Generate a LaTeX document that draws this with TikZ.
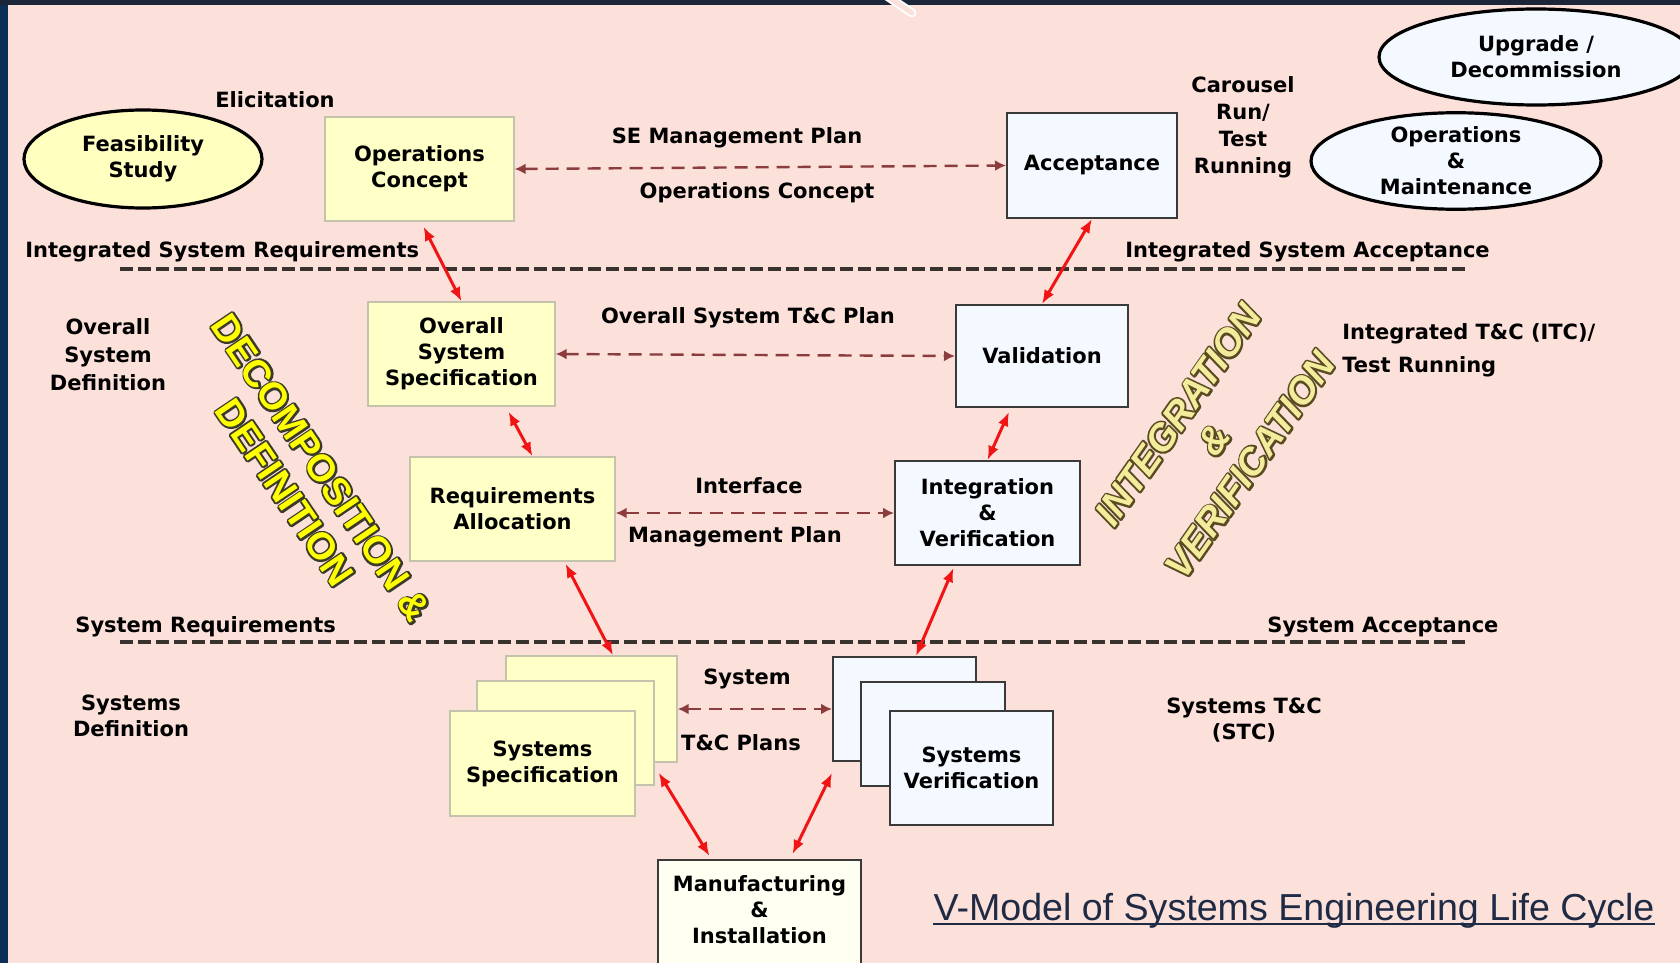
\documentclass[tikz,border=0pt]{standalone}
\usepackage{fontspec}
\setmainfont{DejaVu Sans}
\newfontfamily\libsans{Liberation Sans}
\newfontface\decoout{Liberation Sans Bold}[FakeBold=10]
\newfontface\decoin{Liberation Sans Bold}
\newfontface\ivout{Liberation Sans Bold Italic}[FakeBold=10]
\newfontface\ivin{Liberation Sans Bold Italic}
\usetikzlibrary{arrows.meta,shapes.geometric}
\definecolor{bgc}{HTML}{FCE0DA}
\definecolor{lband}{HTML}{0C3055}
\definecolor{tband}{HTML}{1B2739}
\definecolor{ylw}{HTML}{FFFFC8}
\definecolor{ybord}{HTML}{C4C4AC}
\definecolor{lblue}{HTML}{F3F9FF}
\definecolor{bbord}{HTML}{3A3A3A}
\definecolor{mfill}{HTML}{FFFFF2}
\definecolor{eyel}{HTML}{FFFFC0}
\definecolor{dbrown}{HTML}{8B3C3C}
\definecolor{sepc}{HTML}{38332F}
\definecolor{redc}{HTML}{F01414}
\definecolor{titc}{HTML}{1F2B45}
\definecolor{decoyel}{HTML}{FFFF00}
\definecolor{decoline}{HTML}{3A3A2A}
\definecolor{ivfill}{HTML}{F3EC9C}
\definecolor{ivline}{HTML}{5A4A20}
\newcommand\bt{\fontsize{10.5}{13}\selectfont\bfseries}
\newcommand\rjoin{\special{pdf:code 1 j}}
\begin{document}
\begin{tikzpicture}[x=0.5pt,y=-0.5pt,
  ybox/.style={draw=ybord, fill=ylw, line width=0.7pt, inner sep=0pt, align=center, font=\bt},
  bbox/.style={draw=bbord, fill=lblue, line width=1pt, inner sep=0pt, align=center, font=\bt},
  mbox/.style={draw=bbord, fill=mfill, line width=1pt, inner sep=0pt},
  ell/.style={ellipse, draw=black, line width=1.6pt, inner sep=0pt, align=center, font=\bt},
  lbl/.style={align=center, font=\bt, inner sep=0pt},
  redarr/.style={redc, line width=1.5pt, {Latex[length=7pt,width=5.5pt]}-{Latex[length=7pt,width=5.5pt]}},
  dasharr/.style={dbrown, line width=1.2pt, dash pattern=on 6.5pt off 4pt, {Latex[length=5.5pt,width=5.5pt]}-{Latex[length=5.5pt,width=5.5pt]}},
  sepline/.style={sepc, line width=2pt, dash pattern=on 6.5pt off 2.5pt},
  bigrot/.style={align=center, inner sep=0pt}]
\useasboundingbox (0,0) rectangle (1680,963);
\fill[bgc] (0,0) rectangle (1680,963);
\fill[lband] (0,0) rectangle (8,963);
\fill[tband] (0,0) rectangle (1680,5);
% small clip shape at top
\draw[white, line width=4.5pt, line cap=round] (884,-6) -- (912,13);
\draw[bgc, line width=2.5pt, line cap=round] (884,-6) -- (912,13);

% separators
\draw[sepline] (120,269) -- (1466,269);
\draw[sepline] (120,642) -- (1466,642);

% ellipses
\node[ell, fill=eyel, minimum width=119pt, minimum height=49pt] (feas) at (143,159) {Feasibility\\Study};
\node[ell, fill=lblue, minimum width=157pt, minimum height=48pt] (upg) at (1536,57) {Upgrade /\\Decommission};
\node[ell, fill=lblue, minimum width=145pt, minimum height=48pt] (opm) at (1456,161) {Operations\\\&\\Maintenance};

% left branch boxes
\node[ybox, minimum width=94.5pt, minimum height=52pt] (oc) at (419.5,169) {Operations\\Concept};
\node[ybox, minimum width=93.5pt, minimum height=52pt] (oss) at (461.5,354) {Overall\\System\\Specification};
\node[ybox, minimum width=102.5pt, minimum height=52pt] (ra) at (512.5,509) {Requirements\\Allocation};
\node[ybox, minimum width=85.5pt, minimum height=53pt] (ssA) at (591.5,709) {};
\node[ybox, minimum width=88.5pt, minimum height=52pt] (ssB) at (565.5,733) {};
\node[ybox, minimum width=92.5pt, minimum height=52.5pt] (ssC) at (542.5,763.5) {Systems\\Specification};

% right branch boxes
\node[bbox, minimum width=85pt, minimum height=52.5pt] (acc) at (1092,165.5) {Acceptance};
\node[bbox, minimum width=86pt, minimum height=51pt] (val) at (1042,356) {Validation};
\node[bbox, minimum width=92.5pt, minimum height=52pt] (iv) at (987.5,513) {Integration\\\&\\Verification};
\node[bbox, minimum width=71.5pt, minimum height=52pt] (svA) at (904.5,709) {};
\node[bbox, minimum width=72pt, minimum height=52pt] (svB) at (933,734) {};
\node[bbox, minimum width=81.5pt, minimum height=57pt] (svC) at (971.5,768) {Systems\\Verification};

% manufacturing
\node[mbox, minimum width=101.5pt, minimum height=57.5pt] (mfg) at (759.5,917.5) {};
\node[lbl] (mfgt) at (759.5,910) {Manufacturing\\\&\\Installation};

% labels
\node[lbl] (elic) at (275,100) {Elicitation};
\node[lbl] (sem) at (737,138) {SE Management Plan};
\node[lbl] (opc) at (757,193) {Operations Concept};
\node[lbl, font=\fontsize{10.5}{13.5}\selectfont\bfseries] (car) at (1243,127) {Carousel\\Run/\\Test\\Running};
\node[lbl, anchor=west] (isr) at (25,252) {Integrated System Requirements};
\node[lbl, anchor=west] (isa) at (1125,252) {Integrated System Acceptance};
\node[lbl, font=\fontsize{10.5}{14}\selectfont\bfseries] (osd) at (108,355) {Overall\\System\\Definition};
\node[lbl] (ostc) at (748,318) {Overall System T\&C Plan};
\node[lbl, anchor=west] (itc1) at (1342,334) {Integrated T\&C (ITC)/};
\node[lbl, anchor=west] (itc2) at (1342,367) {Test Running};
\node[lbl] (intf) at (749,486) {Interface};
\node[lbl] (mgp) at (735,537) {Management Plan};
\node[lbl, anchor=west] (sreq) at (75,627) {System Requirements};
\node[lbl, anchor=west] (sacc) at (1267,627) {System Acceptance};
\node[lbl] (sdef) at (131,716) {Systems\\Definition};
\node[lbl] (syst) at (747,679) {System};
\node[lbl] (tcp) at (741,743) {T\&C Plans};
\node[lbl] (stc) at (1244,720) {Systems T\&C\\(STC)};

% big rotated texts: dark emboldened layer under a plain fill layer
\node[bigrot, rotate=-56, text=decoline, font=\decoout\fontsize{19}{22}\selectfont] (decoO) at (303,480)
  {\rjoin DECOMPOSITION \&\\\rjoin DEFINITION};
\node[bigrot, rotate=-56, text=decoyel, font=\decoin\fontsize{19}{22}\selectfont] (deco) at (303,480)
  {DECOMPOSITION \&\\DEFINITION};
\node[bigrot, rotate=55, text=ivline, font=\ivout\fontsize{19}{22}\selectfont] (intvO) at (1214,440)
  {\rjoin INTEGRATION\\\rjoin\&\\\rjoin VERIFICATION};
\node[bigrot, rotate=55, text=ivfill, font=\ivin\fontsize{19}{22}\selectfont] (intv) at (1214,440)
  {INTEGRATION\\\&\\VERIFICATION};

% dashed plan arrows
\draw[dasharr] (oc.east) -- (acc.west);
\draw[dasharr] (oss.east) -- (val.west);
\draw[dasharr] ([yshift=-2pt]ra.east) -- (iv.west);
\draw[dasharr] (ssA.east) -- (svA.west);

% red arrows
\draw[redarr] ([shift={(4,5)}]oc.south) -- (oss.north);
\draw[redarr] (acc.south) -- (val.north);
\draw[redarr] ([shift={(47,5)}]oss.south) -- ([xshift=10pt]ra.north);
\draw[redarr] ([shift={(-33,4)}]val.south) -- (iv.north);
\draw[redarr] ([shift={(53,2)}]ra.south) -- ([xshift=10.75pt]ssA.north);
\draw[redarr] ([shift={(-34,2)}]iv.south) -- ([xshift=5.75pt]svA.north);
\draw[redarr] ([shift={(4,-13)}]ssB.south east) -- ([shift={(-50,-3)}]mfg.north);
\draw[redarr] ([shift={(33,-5)}]mfg.north) -- ([shift={(0,11)}]svA.south west);

% title
\node[anchor=base, inner sep=0pt, text=titc, font=\libsans\fontsize{18.8}{22}\selectfont] (title) at (1294,920) {V-Model of Systems Engineering Life Cycle};
\draw[titc, line width=1pt] ([yshift=-2.2pt]title.base west) -- ([yshift=-2.2pt]title.base east);
\end{tikzpicture}
\end{document}
